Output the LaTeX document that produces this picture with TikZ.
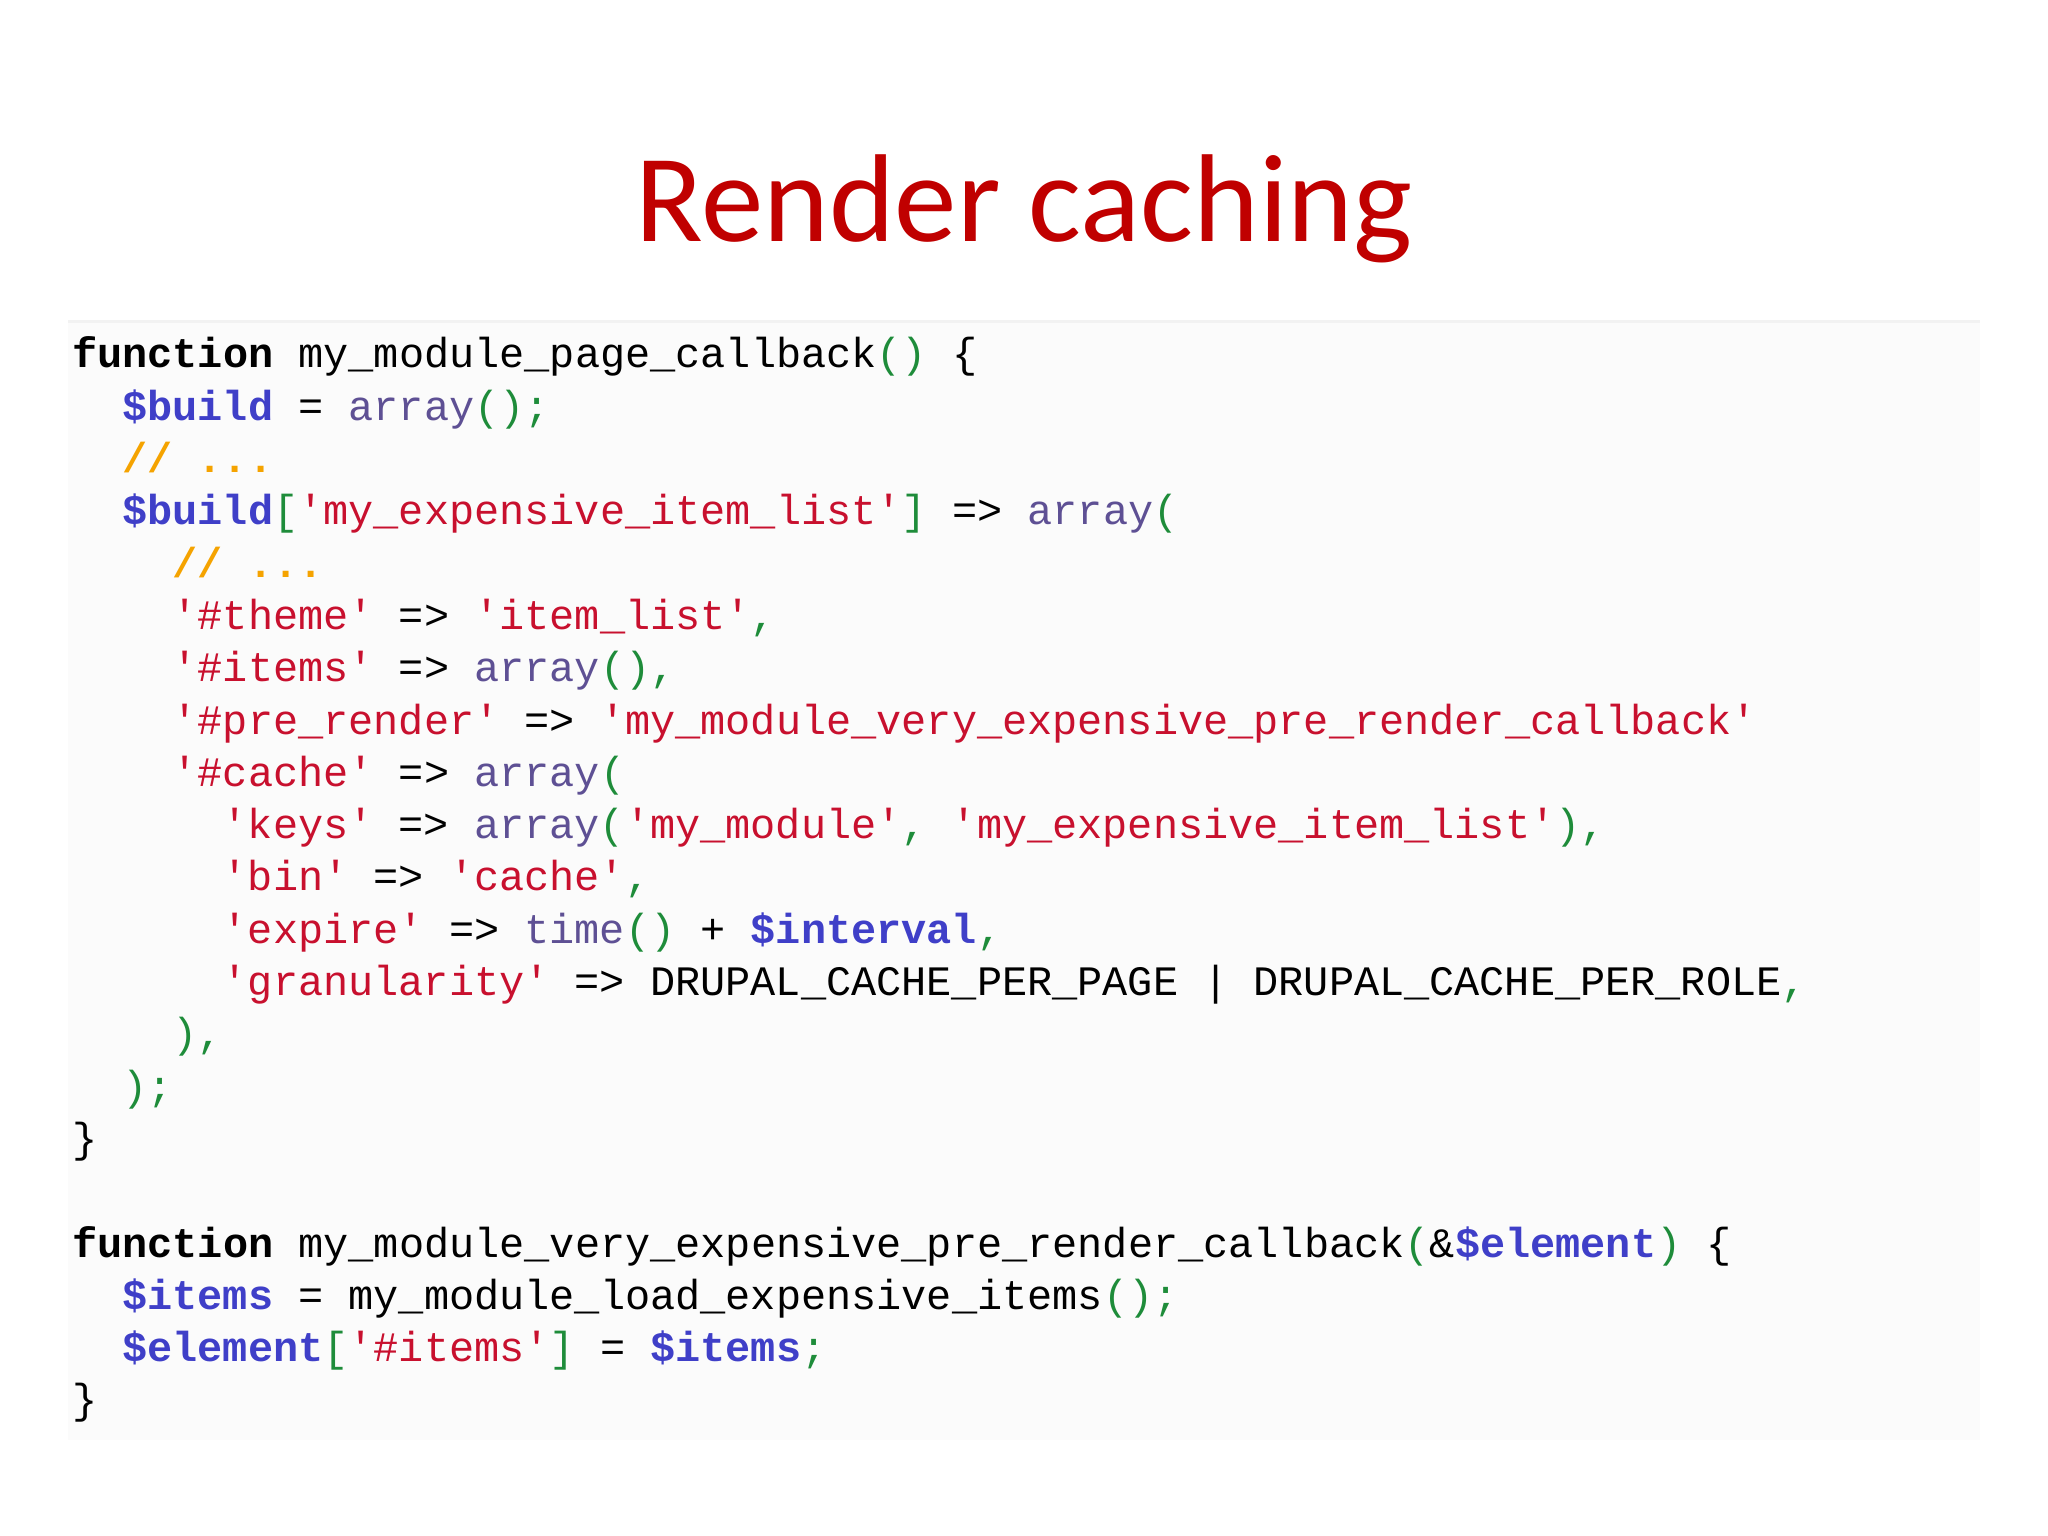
\documentclass[tikz,border=0pt]{standalone}
\usepackage{fontspec}
\setmainfont{Carlito}
\setmonofont{Liberation Mono}
\definecolor{tred}{HTML}{C00000}
\definecolor{vblue}{HTML}{3F3FC8}
\definecolor{sred}{HTML}{C8102E}
\definecolor{pgreen}{HTML}{1E8C3A}
\definecolor{apurple}{HTML}{5E5094}
\definecolor{corange}{HTML}{F5A300}
\newcommand{\Vv}[1]{\textbf{\color{vblue}#1}}
\newcommand{\Ss}[1]{{\color{sred}#1}}
\newcommand{\Pp}[1]{{\color{pgreen}#1}}
\newcommand{\Aa}[1]{{\color{apurple}#1}}
\newcommand{\Cc}[1]{\textbf{\color{corange}#1}}
\newcommand{\Kk}[1]{\textbf{#1}}
\tikzset{code/.style={anchor=base west,inner sep=0pt,font=\ttfamily\fontsize{41.9}{50}\selectfont}}
\begin{document}
\begin{tikzpicture}[x=1pt,y=1pt]
\useasboundingbox (0,0) rectangle (2048,1536);
\fill[black!1.5] (68,1536-322) rectangle (1980,1536-1440);
\draw[black!5,line width=3pt] (68,1536-322) -- (1980,1536-322);
\node[anchor=base,inner sep=0pt,font=\fontsize{125}{135}\selectfont,text=tred] (title) at (1024,1536-242) {Render caching};
\def\L#1#2#3{\node[code] (l#1) at ({72+#2*25.1},{1536-368-(#1-1)*52.3}) {#3};}
\L{1}{0}{\Kk{function} my\_module\_page\_callback\Pp{()} \{}
\L{2}{2}{\Vv{\$build} = \Aa{array}\Pp{();}}
\L{3}{2}{\Cc{// ...}}
\L{4}{2}{\Vv{\$build}\Pp{[}\Ss{'my\_expensive\_item\_list'}\Pp{]} => \Aa{array}\Pp{(}}
\L{5}{4}{\Cc{// ...}}
\L{6}{4}{\Ss{'\#theme'} => \Ss{'item\_list'}\Pp{,}}
\L{7}{4}{\Ss{'\#items'} => \Aa{array}\Pp{(),}}
\L{8}{4}{\Ss{'\#pre\_render'} => \Ss{'my\_module\_very\_expensive\_pre\_render\_callback'}}
\L{9}{4}{\Ss{'\#cache'} => \Aa{array}\Pp{(}}
\L{10}{6}{\Ss{'keys'} => \Aa{array}\Pp{(}\Ss{'my\_module'}\Pp{,} \Ss{'my\_expensive\_item\_list'}\Pp{),}}
\L{11}{6}{\Ss{'bin'} => \Ss{'cache'}\Pp{,}}
\L{12}{6}{\Ss{'expire'} => \Aa{time}\Pp{()} + \Vv{\$interval}\Pp{,}}
\L{13}{6}{\Ss{'granularity'} => DRUPAL\_CACHE\_PER\_PAGE | DRUPAL\_CACHE\_PER\_ROLE\Pp{,}}
\L{14}{4}{\Pp{),}}
\L{15}{2}{\Pp{);}}
\L{16}{0}{\}}
\L{18}{0}{\Kk{function} my\_module\_very\_expensive\_pre\_render\_callback\Pp{(}\&\Vv{\$element}\Pp{)} \{}
\L{19}{2}{\Vv{\$items} = my\_module\_load\_expensive\_items\Pp{();}}
\L{20}{2}{\Vv{\$element}\Pp{[}\Ss{'\#items'}\Pp{]} = \Vv{\$items}\Pp{;}}
\L{21}{0}{\}}
\end{tikzpicture}
\end{document}
